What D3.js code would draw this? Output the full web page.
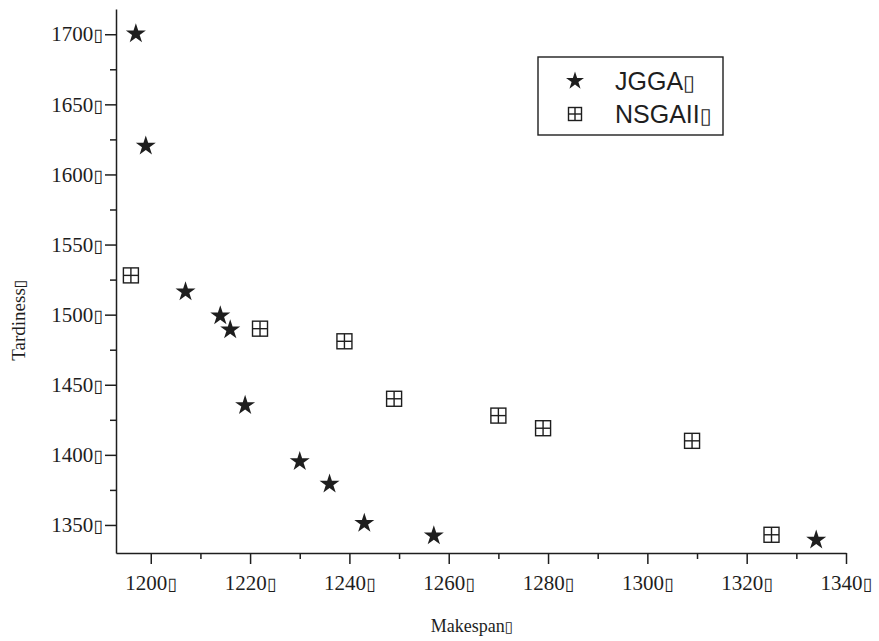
<!DOCTYPE html>
<html>
<head>
<meta charset="utf-8">
<script src="https://cdn.jsdelivr.net/npm/d3@7"></script>
<style>
  body { margin: 0; background: #fff; }
  svg { display: block; }
</style>
</head>
<body>
<script>
// values
var jggaMakespan  = [1197, 1199, 1207, 1214, 1216, 1219, 1230, 1236, 1243, 1257, 1334];
var jggaTardiness = [1701, 1621, 1517, 1500, 1490, 1436, 1396, 1380, 1352, 1343, 1340];
var nsgaMakespan  = [1196, 1222, 1239, 1249, 1270, 1279, 1309, 1325];
var nsgaTardiness = [1528, 1490, 1481, 1440, 1428, 1419, 1410, 1343];

var xMajor = [1200, 1220, 1240, 1260, 1280, 1300, 1320, 1340];
var xMinor = [1210, 1230, 1250, 1270, 1290, 1310, 1330];
var yMajor = [1350, 1400, 1450, 1500, 1550, 1600, 1650, 1700];
var yMinor = [1375, 1425, 1475, 1525, 1575, 1625, 1675];

var seriesNames = ['JGGA', 'NSGAII'];
var xTitle = 'Makespan';
var yTitle = 'Tardiness';
var boxGlyph = '\u25AF';   // the missing-glyph box printed after every label

var width = 879, height = 641;
var margin = {left: 116, top: 9};
var plotW = 730, plotH = 544;
var ink = '#1e1e1e';

var svg = d3.select('body').append('svg')
    .attr('width', width)
    .attr('height', height);

var x = d3.scaleLinear().domain([1193, 1340]).range([0, plotW]);
var y = d3.scaleLinear().domain([1330, 1718]).range([plotH, 0]);

var g = svg.append('g')
    .attr('transform', 'translate(' + margin.left + ',' + margin.top + ')');

// label text + box glyph
function boxLabel(sel) {
  sel.each(function(d) {
    var t = d3.select(this);
    t.text(null);
    t.append('tspan').text(d);
    t.append('tspan')
      .attr('font-family', 'DejaVu Sans')
      .attr('font-size', '0.85em')
      .attr('font-weight', 'normal')
      .text(boxGlyph);
  });
}

// minor ticks first, majors drawn on top
g.append('g')
    .attr('transform', 'translate(0,' + plotH + ')')
    .call(d3.axisBottom(x).tickValues(xMinor).tickSize(6).tickFormat(''))
    .call(function(a) { a.select('.domain').remove(); });
g.append('g')
    .call(d3.axisLeft(y).tickValues(yMinor).tickSize(6).tickFormat(''))
    .call(function(a) { a.select('.domain').remove(); });

var xAxis = g.append('g')
    .attr('transform', 'translate(0,' + plotH + ')')
    .call(d3.axisBottom(x).tickValues(xMajor).tickSizeInner(11).tickSizeOuter(0).tickPadding(11));
var yAxis = g.append('g')
    .call(d3.axisLeft(y).tickValues(yMajor).tickSizeInner(11).tickSizeOuter(0).tickPadding(2));

[xAxis, yAxis].forEach(function(a) {
  a.selectAll('.tick text')
    .attr('font-family', 'Liberation Serif, Times New Roman, serif')
    .attr('font-size', 21)
    .attr('fill', ink)
    .call(boxLabel);
});

svg.selectAll('.domain, .tick line')
    .attr('stroke', ink)
    .attr('stroke-width', 1.5);

// axis titles
svg.append('text')
    .attr('x', 472)
    .attr('y', 632)
    .attr('text-anchor', 'middle')
    .attr('font-family', 'Liberation Serif, Times New Roman, serif')
    .attr('font-size', 18)
    .attr('fill', ink)
    .datum(xTitle)
    .call(boxLabel);

svg.append('text')
    .attr('transform', 'translate(25,320) rotate(-90)')
    .attr('text-anchor', 'middle')
    .attr('font-family', 'Liberation Serif, Times New Roman, serif')
    .attr('font-size', 19)
    .attr('fill', ink)
    .datum(yTitle)
    .call(boxLabel);

// markers
var star = d3.symbol().type(d3.symbolStar).size(124);
var boxSize = 15;

function drawBox(sel, s) {
  sel.append('rect')
    .attr('x', -s / 2).attr('y', -s / 2)
    .attr('width', s).attr('height', s)
    .attr('fill', '#fff')
    .attr('stroke', ink)
    .attr('stroke-width', 1.4);
  sel.append('line')
    .attr('x1', 0).attr('x2', 0).attr('y1', -s / 2).attr('y2', s / 2)
    .attr('stroke', ink).attr('stroke-width', 1.4);
  sel.append('line')
    .attr('x1', -s / 2).attr('x2', s / 2).attr('y1', 0).attr('y2', 0)
    .attr('stroke', ink).attr('stroke-width', 1.4);
}

var nsga = nsgaMakespan.map(function(m, i) { return [m, nsgaTardiness[i]]; });
var jgga = jggaMakespan.map(function(m, i) { return [m, jggaTardiness[i]]; });

g.selectAll('g.nsga')
  .data(nsga)
  .enter()
  .append('g')
    .attr('class', 'nsga')
    .attr('transform', function(d) { return 'translate(' + x(d[0]) + ',' + y(d[1]) + ')'; })
    .each(function() { drawBox(d3.select(this), boxSize); });

g.selectAll('path.jgga')
  .data(jgga)
  .enter()
  .append('path')
    .attr('class', 'jgga')
    .attr('d', star)
    .attr('transform', function(d) { return 'translate(' + x(d[0]) + ',' + (y(d[1]) + 1) + ')'; })
    .attr('fill', ink);

// legend
var legend = svg.append('g');
legend.append('rect')
    .attr('x', 538).attr('y', 57)
    .attr('width', 185).attr('height', 78)
    .attr('fill', '#fff')
    .attr('stroke', ink)
    .attr('stroke-width', 1.4);

legend.append('path')
    .attr('d', d3.symbol().type(d3.symbolStar).size(100))
    .attr('transform', 'translate(575,81)')
    .attr('fill', ink);
legend.append('g')
    .attr('transform', 'translate(575,114)')
    .call(drawBox, 13);

legend.selectAll('text')
  .data(seriesNames)
  .enter()
  .append('text')
    .attr('x', 615)
    .attr('y', function(d, i) { return 90 + i * 33; })
    .attr('font-family', 'Liberation Sans, Arial, sans-serif')
    .attr('font-size', 25)
    .attr('fill', ink)
    .call(boxLabel);
</script>
</body>
</html>
